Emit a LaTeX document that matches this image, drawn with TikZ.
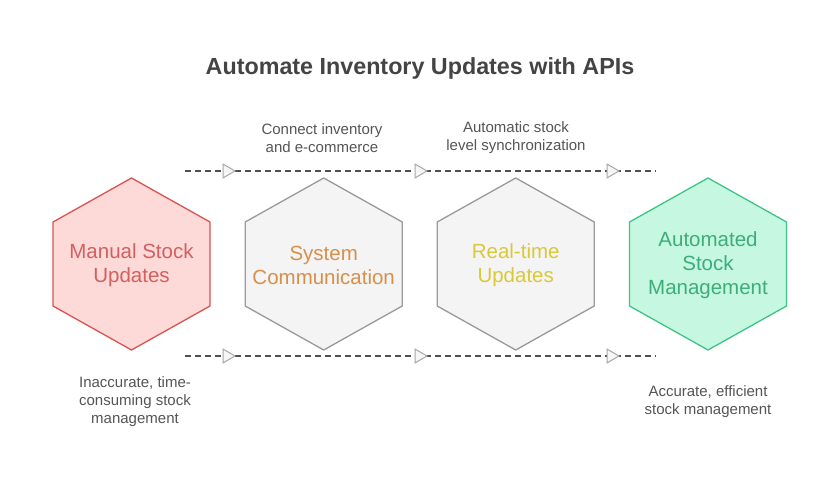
\documentclass[tikz,border=0pt]{standalone}
\usepackage{fontspec}
\setmainfont{Liberation Sans}
\usetikzlibrary{shapes.geometric}
\definecolor{titlec}{HTML}{444444}
\definecolor{annc}{HTML}{555555}
\definecolor{redfill}{HTML}{FDD9D8}
\definecolor{redline}{HTML}{D9534F}
\definecolor{redtxt}{HTML}{D2605F}
\definecolor{grayfill}{HTML}{F4F4F4}
\definecolor{grayline}{HTML}{9A9A9A}
\definecolor{orangetxt}{HTML}{D6904A}
\definecolor{yellowtxt}{HTML}{D9C93A}
\definecolor{greenfill}{HTML}{C6F7E0}
\definecolor{greenline}{HTML}{3EC487}
\definecolor{greentxt}{HTML}{3DAE79}
\definecolor{dashc}{HTML}{505050}
\definecolor{trifill}{HTML}{F6F6F6}
\definecolor{triline}{HTML}{A8A8A8}
\tikzset{
  hexshape/.style={line width=1.3pt, line join=miter},
  hextext/.style={align=center, font=\fontsize{20.5}{24}\selectfont, inner sep=0pt},
  anntext/.style={align=center, text=annc, font=\fontsize{15}{18}\selectfont, inner sep=0pt},
  dashln/.style={draw=dashc, line width=1.4pt, dash pattern=on 6pt off 4pt},
  tri/.style={regular polygon, regular polygon sides=3, shape border rotate=-90, minimum size=16pt, inner sep=0pt, draw=triline, fill=trifill, line width=1pt}
}
\newcommand{\hexpath}[3]{% cx, fill, line
  \draw[hexshape, fill=#2, draw=#3] (#1,178) -- (#1+78.5,222) -- (#1+78.5,306) -- (#1,350) -- (#1-78.5,306) -- (#1-78.5,222) -- cycle;}
\begin{document}
\begin{tikzpicture}[x=1pt,y=-1pt]
\useasboundingbox[fill=white] (0,0) rectangle (840,492);
\node[text=titlec, font=\fontsize{23.3}{26}\selectfont\bfseries] (title) at (420,68) {Automate Inventory Updates with APIs};

% dashed lines
\coordinate (ts) at (185,171);
\coordinate (te) at (656,171);
\coordinate (bs) at (185,356);
\coordinate (be) at (656,356);
\draw[dashln] (ts) -- (te);
\draw[dashln] (bs) -- (be);
\node[tri] (t1) at (227,171) {};
\node[tri] (t2) at (419,171) {};
\node[tri] (t3) at (611,171) {};
\node[tri] (b1) at (227,356) {};
\node[tri] (b2) at (419,356) {};
\node[tri] (b3) at (611,356) {};

% hexagons
\hexpath{131.5}{redfill}{redline}
\hexpath{323.7}{grayfill}{grayline}
\hexpath{515.7}{grayfill}{grayline}
\hexpath{708}{greenfill}{greenline}
\node[hextext, text=redtxt] (h1) at (131.5,265) {Manual Stock\\Updates};
\node[hextext, text=orangetxt] (h2) at (323.7,265) {System\\Communication};
\node[hextext, text=yellowtxt] (h3) at (515.7,265) {Real-time\\Updates};
\node[hextext, text=greentxt] (h4) at (708,265) {Automated\\Stock\\Management};

% annotations
\node[anntext] (a1) at (322,138) {Connect inventory\\and e-commerce};
\node[anntext] (a2) at (516,138) {Automatic stock\\level synchronization};
\node[anntext] (a3) at (135,402) {Inaccurate, time-\\consuming stock\\management};
\node[anntext] (a4) at (708,402) {Accurate, efficient\\stock management};
\end{tikzpicture}
\end{document}
